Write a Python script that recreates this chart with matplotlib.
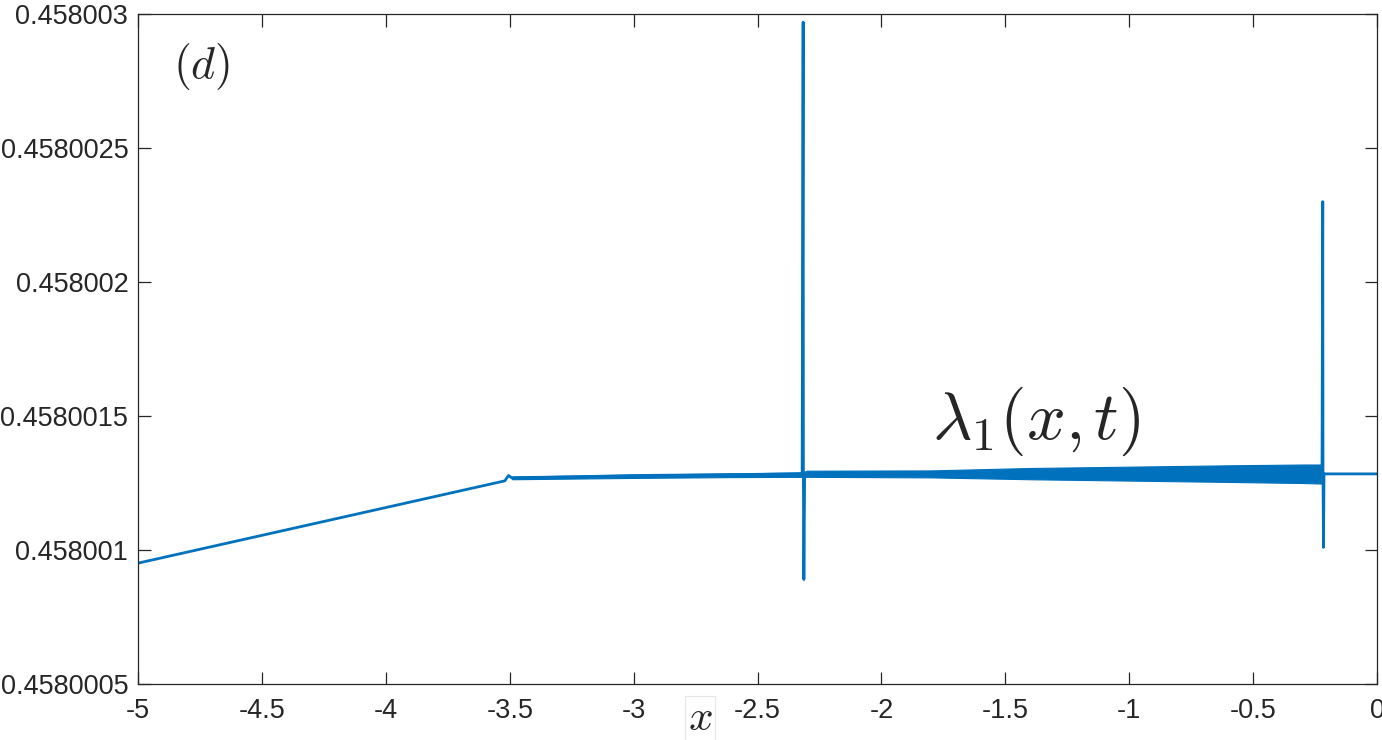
import matplotlib
matplotlib.use("Agg")
import matplotlib.pyplot as plt

# main curve lambda_1(x, t)
lam_x = [-5.0, -3.52, -3.505, -3.49, -3.0, -2.5, -2.32, -2.316, -2.315, -2.313, -2.31,
         -0.222, -0.219, -0.218, -0.216, -0.214, 0.0]
lam_y = [0.458000951, 0.458001258, 0.458001278, 0.458001268, 0.458001278, 0.458001282,
         0.458001284, 0.45800297, 0.458001284, 0.45800089, 0.458001284,
         0.458001284, 0.4580023, 0.458001284, 0.45800101, 0.458001284, 0.458001284]

# envelope of the small oscillation band
band_x  = [-3.49, -3.0, -2.6, -2.32, -2.30, -1.8, -1.4, -1.0, -0.6, -0.3, -0.225]
band_lo = [0.458001264, 0.458001269, 0.458001272, 0.458001273, 0.458001273, 0.458001271,
           0.458001264, 0.458001259, 0.458001254, 0.458001250, 0.458001248]
band_hi = [0.458001275, 0.458001281, 0.458001286, 0.458001290, 0.458001296, 0.458001297,
           0.458001306, 0.458001311, 0.458001316, 0.458001319, 0.458001319]

xticks = [-5, -4.5, -4, -3.5, -3, -2.5, -2, -1.5, -1, -0.5, 0]
xtick_labels = ["-5", "-4.5", "-4", "-3.5", "-3", "-2.5", "-2", "-1.5", "-1", "-0.5", "0"]
yticks = [0.4580005, 0.458001, 0.4580015, 0.458002, 0.4580025, 0.458003]
ytick_labels = ["0.4580005", "0.458001", "0.4580015", "0.458002", "0.4580025", "0.458003"]

BLUE = "#0072BD"
AX_COL = "#262626"

plt.rcParams["mathtext.fontset"] = "cm"
plt.rcParams["font.family"] = ["Liberation Sans", "DejaVu Sans"]

fig = plt.figure(figsize=(13.82, 7.40), dpi=100)
ax = fig.add_axes([0.0999, 0.0757, 0.8965, 0.9053])

ax.fill_between(band_x, band_lo, band_hi, color=BLUE, linewidth=0.8)
ax.plot(lam_x, lam_y, color=BLUE, linewidth=2.0)

ax.set_xlim(-5, 0)
ax.set_ylim(0.4580005, 0.458003)
ax.set_xticks(xticks, xtick_labels)
ax.set_yticks(yticks, ytick_labels)
ax.tick_params(direction="in", length=9, width=0.9, color=AX_COL, labelcolor=AX_COL,
               labelsize=19.5, top=True, right=True)
ax.tick_params(axis="y", pad=7)
ax.tick_params(axis="x", pad=10)
for s in ax.spines.values():
    s.set_color(AX_COL)
    s.set_linewidth(0.9)

ax.text(0.051, 0.922, r"$(d)$", transform=ax.transAxes, ha="center", va="center",
        fontsize=33, color=AX_COL)
ax.text(0.725, 0.392, r"$\lambda_1(x{,}\,t)$", transform=ax.transAxes, ha="center",
        va="center", fontsize=49, color=AX_COL)

ax.set_xlabel(r"$x$", fontsize=31, color=AX_COL,
              bbox=dict(facecolor="white", edgecolor="#e6e6e6", linewidth=0.8, pad=2))
ax.xaxis.set_label_coords(0.4536, -0.052)
ax.xaxis.label.set_verticalalignment("center")

fig.savefig("out.png", dpi=100)
